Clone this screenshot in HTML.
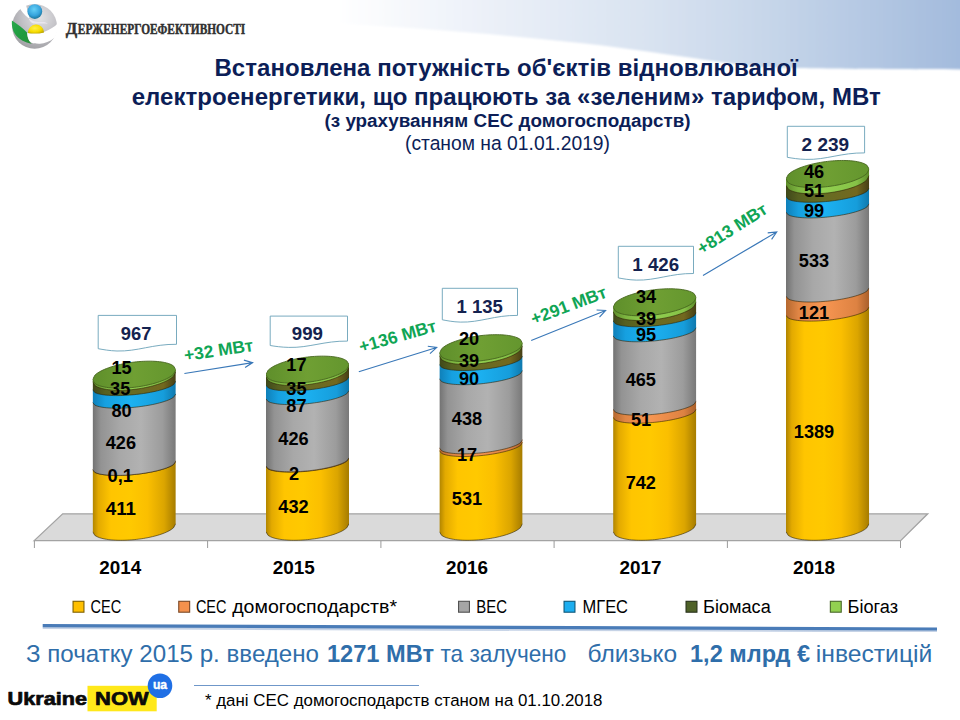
<!DOCTYPE html>
<html><head><meta charset="utf-8"><title>slide</title>
<style>
html,body{margin:0;padding:0;}
body{width:960px;height:720px;position:relative;overflow:hidden;background:#fff;font-family:"Liberation Sans",sans-serif;}
.t{position:absolute;white-space:nowrap;line-height:1;}
.title{color:#0c1e57;font-weight:bold;text-align:center;left:0;width:1015px;}
svg text{white-space:pre;}
</style></head><body>
<svg width="960" height="720" viewBox="0 0 960 720" style="position:absolute;left:0;top:0">

<defs>
<linearGradient id="g_ses" x1="0" x2="1" y1="0" y2="0">
 <stop offset="0" stop-color="#b08400"/><stop offset="0.07" stop-color="#e3aa00"/><stop offset="0.22" stop-color="#ffc500"/><stop offset="0.45" stop-color="#ffc900"/><stop offset="0.66" stop-color="#fbbf00"/><stop offset="0.86" stop-color="#dba500"/><stop offset="1" stop-color="#a57b00"/>
</linearGradient>
<linearGradient id="g_dom" x1="0" x2="1" y1="0" y2="0">
 <stop offset="0" stop-color="#b5682f"/><stop offset="0.15" stop-color="#e08645"/><stop offset="0.45" stop-color="#f79652"/><stop offset="0.85" stop-color="#dd8242"/><stop offset="1" stop-color="#a85f2a"/>
</linearGradient>
<linearGradient id="g_ves" x1="0" x2="1" y1="0" y2="0">
 <stop offset="0" stop-color="#727272"/><stop offset="0.1" stop-color="#939393"/><stop offset="0.33" stop-color="#a8a8a8"/><stop offset="0.58" stop-color="#b2b2b2"/><stop offset="0.84" stop-color="#9c9c9c"/><stop offset="1" stop-color="#787878"/>
</linearGradient>
<linearGradient id="g_mges" x1="0" x2="1" y1="0" y2="0">
 <stop offset="0" stop-color="#0f7fb8"/><stop offset="0.15" stop-color="#16a0e0"/><stop offset="0.45" stop-color="#1cb2f2"/><stop offset="0.85" stop-color="#169ddb"/><stop offset="1" stop-color="#0f78ad"/>
</linearGradient>
<linearGradient id="g_biom" x1="0" x2="1" y1="0" y2="0">
 <stop offset="0" stop-color="#3f481a"/><stop offset="0.15" stop-color="#566020"/><stop offset="0.45" stop-color="#666c23"/><stop offset="0.85" stop-color="#73681f"/><stop offset="1" stop-color="#453f16"/>
</linearGradient>
<linearGradient id="g_biog" x1="0" x2="1" y1="0" y2="0">
 <stop offset="0" stop-color="#5e8d2a"/><stop offset="0.15" stop-color="#7db540"/><stop offset="0.45" stop-color="#92d050"/><stop offset="0.85" stop-color="#86c247"/><stop offset="1" stop-color="#5b8a28"/>
</linearGradient>
<linearGradient id="g_lid" x1="0" x2="1" y1="0" y2="0">
 <stop offset="0" stop-color="#5f8f2b"/><stop offset="0.5" stop-color="#6f9f33"/><stop offset="1" stop-color="#64962e"/>
</linearGradient>
<linearGradient id="g_band" gradientUnits="userSpaceOnUse" x1="335" y1="0" x2="960" y2="0">
 <stop offset="0" stop-color="#ffffff"/><stop offset="0.25" stop-color="#ebf0f8"/><stop offset="0.5" stop-color="#d9e3f1"/><stop offset="0.68" stop-color="#c8d7ea"/><stop offset="1" stop-color="#a3bbdd"/>
</linearGradient>
<clipPath id="cclip"><rect x="-41.6" y="0" width="83.2" height="720"/></clipPath>
<filter id="soft" x="-5%" y="-20%" width="110%" height="140%"><feGaussianBlur stdDeviation="1.2"/></filter>
<filter id="blur1" x="-20%" y="-20%" width="140%" height="140%"><feGaussianBlur stdDeviation="0.55"/></filter>
<radialGradient id="lg_gray" cx="0.62" cy="0.3" r="0.8">
 <stop offset="0" stop-color="#e2e2e4"/><stop offset="0.5" stop-color="#c2c1c6"/><stop offset="1" stop-color="#9a9a9e"/>
</radialGradient>
<radialGradient id="lg_blue" cx="0.45" cy="0.35" r="0.7">
 <stop offset="0" stop-color="#66d0f7"/><stop offset="0.6" stop-color="#36a3dc"/><stop offset="1" stop-color="#176a8c"/>
</radialGradient>
<radialGradient id="lg_yel" cx="0.42" cy="0.4" r="0.7">
 <stop offset="0" stop-color="#fff04a"/><stop offset="0.6" stop-color="#f7dc00"/><stop offset="1" stop-color="#b9a300"/>
</radialGradient>
<linearGradient id="lg_green" x1="0" y1="0" x2="1" y2="1">
 <stop offset="0" stop-color="#27a84a"/><stop offset="0.6" stop-color="#1f9a3e"/><stop offset="1" stop-color="#2f8f3c"/>
</linearGradient>
</defs>

<path d="M320,-5 L320,23 C 400,26.5 480,32.5 580,43 C 640,49.5 700,60 755,66.3 C 785,68.6 840,69.1 966,69.4 L966,-5 Z" fill="url(#g_band)" filter="url(#soft)"/>
<g id="logo">
<g filter="url(#blur1)">
<circle cx="34.6" cy="26.4" r="22.4" fill="url(#lg_gray)"/>
<path d="M25.8,4.2 C23.5,5 21.5,6.2 19.8,7.8 C21,11 24,14.5 28.6,18.2 C29.6,17.2 30,16 30,15 C28,12.5 27,9 25.8,4.2 Z" fill="#ffffff"/>
<path d="M28.6,18.2 C32,21.5 38,22.3 43,22 C45,22 46.5,22.6 47.8,23.8 C43,23 38,24 33.5,23.6 C31,22.6 29.4,20.6 28.6,18.2 Z" fill="#e9e6ee"/>
<path d="M11.9,20.5 C17,24 23.5,28.5 27.2,32.8 C27.4,36.5 28.2,40.5 31.8,43.8 C25,43 18.5,39 14.8,33.8 C12.4,30 11.5,25 11.9,20.5 Z" fill="url(#lg_green)"/>
<path d="M27.2,32.9 C33,33.6 40,33.4 44.5,31.8 C50,29.5 54.5,27 57.6,23.5 C58.2,29 57,34 54.6,37.6 C50,42 43.5,44 39,43.7 C35,43.7 32.5,43.6 31,42.6 C28.2,40.2 27.3,36.5 27.2,32.9 Z" fill="#ffffff"/>
<circle cx="34.8" cy="11.6" r="7.4" fill="url(#lg_blue)"/>
<path d="M27.9,33 A8.1,8.1 0 0 1 44.1,32.4 C39,33.8 32.5,33.9 27.9,33 Z" fill="url(#lg_yel)"/>
</g>
</g>
<text x="65.8" y="34.3" font-family="Liberation Serif" font-size="17.6" font-weight="bold" fill="#303030" text-anchor="start" textLength="11.5" lengthAdjust="spacingAndGlyphs" stroke="#303030" stroke-width="0.45">Д</text>
<text x="77.8" y="34.3" font-family="Liberation Serif" font-size="14.6" font-weight="bold" fill="#303030" text-anchor="start" textLength="167.5" lengthAdjust="spacingAndGlyphs" stroke="#303030" stroke-width="0.45">ЕРЖЕНЕРГОЕФЕКТИВНОСТІ</text>
<path d="M34.2,540.6 L62.7,513.8 L927.7,513.8 L900.6,540.6 Z" fill="#dadada" stroke="#a3a3a3" stroke-width="1.3" stroke-linejoin="miter"/>
<line x1="34.4" y1="541" x2="34.4" y2="548" stroke="#8f8f8f" stroke-width="0.9"/>
<line x1="207.6" y1="541" x2="207.6" y2="548" stroke="#8f8f8f" stroke-width="0.9"/>
<line x1="380.9" y1="541" x2="380.9" y2="548" stroke="#8f8f8f" stroke-width="0.9"/>
<line x1="554.1" y1="541" x2="554.1" y2="548" stroke="#8f8f8f" stroke-width="0.9"/>
<line x1="727.4" y1="541" x2="727.4" y2="548" stroke="#8f8f8f" stroke-width="0.9"/>
<line x1="900.5" y1="541" x2="900.5" y2="548" stroke="#8f8f8f" stroke-width="0.9"/>
<g transform="translate(134.2,0)" clip-path="url(#cclip)">
<path d="M-41.6,469.19 L-41.60,531.77 -39.29,535.46 -36.98,536.77 -34.67,537.68 -32.36,538.35 -30.04,538.88 -27.73,539.29 -25.42,539.62 -23.11,539.87 -20.80,540.06 -18.49,540.19 -16.18,540.27 -13.87,540.30 -11.56,540.29 -9.24,540.23 -6.93,540.14 -4.62,540.01 -2.31,539.84 0.00,539.63 2.31,539.39 4.62,539.11 6.93,538.80 9.24,538.44 11.56,538.05 13.87,537.61 16.18,537.13 18.49,536.60 20.80,536.02 23.11,535.39 25.42,534.69 27.73,533.91 30.04,533.05 32.36,532.08 34.67,530.95 36.98,529.60 39.29,527.83 41.60,523.70 L41.6,460.87 Z" fill="url(#g_ses)"/>
<path d="M-41.60,531.77 -39.29,535.46 -36.98,536.77 -34.67,537.68 -32.36,538.35 -30.04,538.88 -27.73,539.29 -25.42,539.62 -23.11,539.87 -20.80,540.06 -18.49,540.19 -16.18,540.27 -13.87,540.30 -11.56,540.29 -9.24,540.23 -6.93,540.14 -4.62,540.01 -2.31,539.84 0.00,539.63 2.31,539.39 4.62,539.11 6.93,538.80 9.24,538.44 11.56,538.05 13.87,537.61 16.18,537.13 18.49,536.60 20.80,536.02 23.11,535.39 25.42,534.69 27.73,533.91 30.04,533.05 32.36,532.08 34.67,530.95 36.98,529.60 39.29,527.83 41.60,523.70" fill="none" stroke="rgba(45,35,5,0.62)" stroke-width="0.95"/>
<path d="M-41.6,469.17 L-41.60,469.69 -39.29,472.42 -36.98,473.35 -34.67,473.97 -32.36,474.42 -30.04,474.76 -27.73,475.01 -25.42,475.20 -23.11,475.32 -20.80,475.40 -18.49,475.44 -16.18,475.44 -13.87,475.40 -11.56,475.33 -9.24,475.23 -6.93,475.10 -4.62,474.94 -2.31,474.75 0.00,474.53 2.31,474.28 4.62,474.01 6.93,473.71 9.24,473.38 11.56,473.02 13.87,472.63 16.18,472.20 18.49,471.74 20.80,471.24 23.11,470.70 25.42,470.11 27.73,469.46 30.04,468.75 32.36,467.95 34.67,467.04 36.98,465.95 39.29,464.56 41.60,461.37 L41.6,460.85 Z" fill="url(#g_dom)"/>
<path d="M-41.60,469.69 -39.29,472.42 -36.98,473.35 -34.67,473.97 -32.36,474.42 -30.04,474.76 -27.73,475.01 -25.42,475.20 -23.11,475.32 -20.80,475.40 -18.49,475.44 -16.18,475.44 -13.87,475.40 -11.56,475.33 -9.24,475.23 -6.93,475.10 -4.62,474.94 -2.31,474.75 0.00,474.53 2.31,474.28 4.62,474.01 6.93,473.71 9.24,473.38 11.56,473.02 13.87,472.63 16.18,472.20 18.49,471.74 20.80,471.24 23.11,470.70 25.42,470.11 27.73,469.46 30.04,468.75 32.36,467.95 34.67,467.04 36.98,465.95 39.29,464.56 41.60,461.37" fill="none" stroke="rgba(45,35,5,0.62)" stroke-width="0.95"/>
<path d="M-41.6,401.95 L-41.60,469.67 -39.29,472.40 -36.98,473.33 -34.67,473.96 -32.36,474.41 -30.04,474.74 -27.73,475.00 -25.42,475.18 -23.11,475.31 -20.80,475.39 -18.49,475.42 -16.18,475.42 -13.87,475.39 -11.56,475.31 -9.24,475.21 -6.93,475.08 -4.62,474.92 -2.31,474.73 0.00,474.51 2.31,474.27 4.62,474.00 6.93,473.69 9.24,473.36 11.56,473.00 13.87,472.61 16.18,472.19 18.49,471.73 20.80,471.23 23.11,470.69 25.42,470.10 27.73,469.45 30.04,468.73 32.36,467.93 34.67,467.02 36.98,465.94 39.29,464.54 41.60,461.35 L41.6,393.63 Z" fill="url(#g_ves)"/>
<path d="M-41.60,469.67 -39.29,472.40 -36.98,473.33 -34.67,473.96 -32.36,474.41 -30.04,474.74 -27.73,475.00 -25.42,475.18 -23.11,475.31 -20.80,475.39 -18.49,475.42 -16.18,475.42 -13.87,475.39 -11.56,475.31 -9.24,475.21 -6.93,475.08 -4.62,474.92 -2.31,474.73 0.00,474.51 2.31,474.27 4.62,474.00 6.93,473.69 9.24,473.36 11.56,473.00 13.87,472.61 16.18,472.19 18.49,471.73 20.80,471.23 23.11,470.69 25.42,470.10 27.73,469.45 30.04,468.73 32.36,467.93 34.67,467.02 36.98,465.94 39.29,464.54 41.60,461.35" fill="none" stroke="rgba(45,35,5,0.62)" stroke-width="0.95"/>
<path d="M-41.6,389.33 L-41.60,402.45 -39.29,405.18 -36.98,406.11 -34.67,406.73 -32.36,407.18 -30.04,407.52 -27.73,407.77 -25.42,407.96 -23.11,408.09 -20.80,408.16 -18.49,408.20 -16.18,408.20 -13.87,408.16 -11.56,408.09 -9.24,407.99 -6.93,407.86 -4.62,407.70 -2.31,407.51 0.00,407.29 2.31,407.05 4.62,406.77 6.93,406.47 9.24,406.14 11.56,405.78 13.87,405.39 16.18,404.96 18.49,404.50 20.80,404.00 23.11,403.46 25.42,402.87 27.73,402.23 30.04,401.51 32.36,400.71 34.67,399.80 36.98,398.72 39.29,397.32 41.60,394.13 L41.6,381.01 Z" fill="url(#g_mges)"/>
<path d="M-41.60,402.45 -39.29,405.18 -36.98,406.11 -34.67,406.73 -32.36,407.18 -30.04,407.52 -27.73,407.77 -25.42,407.96 -23.11,408.09 -20.80,408.16 -18.49,408.20 -16.18,408.20 -13.87,408.16 -11.56,408.09 -9.24,407.99 -6.93,407.86 -4.62,407.70 -2.31,407.51 0.00,407.29 2.31,407.05 4.62,406.77 6.93,406.47 9.24,406.14 11.56,405.78 13.87,405.39 16.18,404.96 18.49,404.50 20.80,404.00 23.11,403.46 25.42,402.87 27.73,402.23 30.04,401.51 32.36,400.71 34.67,399.80 36.98,398.72 39.29,397.32 41.60,394.13" fill="none" stroke="rgba(45,35,5,0.62)" stroke-width="0.95"/>
<path d="M-41.6,381.18 L-41.60,389.83 -39.29,392.55 -36.98,393.49 -34.67,394.11 -32.36,394.56 -30.04,394.90 -27.73,395.15 -25.42,395.33 -23.11,395.46 -20.80,395.54 -18.49,395.58 -16.18,395.58 -13.87,395.54 -11.56,395.47 -9.24,395.37 -6.93,395.23 -4.62,395.07 -2.31,394.88 0.00,394.67 2.31,394.42 4.62,394.15 6.93,393.85 9.24,393.52 11.56,393.16 13.87,392.77 16.18,392.34 18.49,391.88 20.80,391.38 23.11,390.84 25.42,390.25 27.73,389.60 30.04,388.89 32.36,388.09 34.67,387.17 36.98,386.09 39.29,384.70 41.60,381.51 L41.6,371.37 Z" fill="url(#g_biom)"/>
<path d="M-41.60,389.83 -39.29,392.55 -36.98,393.49 -34.67,394.11 -32.36,394.56 -30.04,394.90 -27.73,395.15 -25.42,395.33 -23.11,395.46 -20.80,395.54 -18.49,395.58 -16.18,395.58 -13.87,395.54 -11.56,395.47 -9.24,395.37 -6.93,395.23 -4.62,395.07 -2.31,394.88 0.00,394.67 2.31,394.42 4.62,394.15 6.93,393.85 9.24,393.52 11.56,393.16 13.87,392.77 16.18,392.34 18.49,391.88 20.80,391.38 23.11,390.84 25.42,390.25 27.73,389.60 30.04,388.89 32.36,388.09 34.67,387.17 36.98,386.09 39.29,384.70 41.60,381.51" fill="none" stroke="rgba(45,35,5,0.62)" stroke-width="0.95"/>
<path d="M-41.6,379.60 L-41.60,381.68 -39.29,385.55 -36.98,386.91 -34.67,387.83 -32.36,388.51 -30.04,389.03 -27.73,389.44 -25.42,389.75 -23.11,389.98 -20.80,390.14 -18.49,390.24 -16.18,390.29 -13.87,390.29 -11.56,390.24 -9.24,390.15 -6.93,390.02 -4.62,389.84 -2.31,389.63 0.00,389.37 2.31,389.08 4.62,388.75 6.93,388.38 9.24,387.97 11.56,387.52 13.87,387.02 16.18,386.47 18.49,385.88 20.80,385.23 23.11,384.52 25.42,383.75 27.73,382.89 30.04,381.94 32.36,380.88 34.67,379.65 36.98,378.18 39.29,376.28 41.60,371.87 L41.6,369.78 Z" fill="url(#g_biog)"/>
<path d="M-41.60,381.68 -39.29,385.55 -36.98,386.91 -34.67,387.83 -32.36,388.51 -30.04,389.03 -27.73,389.44 -25.42,389.75 -23.11,389.98 -20.80,390.14 -18.49,390.24 -16.18,390.29 -13.87,390.29 -11.56,390.24 -9.24,390.15 -6.93,390.02 -4.62,389.84 -2.31,389.63 0.00,389.37 2.31,389.08 4.62,388.75 6.93,388.38 9.24,387.97 11.56,387.52 13.87,387.02 16.18,386.47 18.49,385.88 20.80,385.23 23.11,384.52 25.42,383.75 27.73,382.89 30.04,381.94 32.36,380.88 34.67,379.65 36.98,378.18 39.29,376.28 41.60,371.87" fill="none" stroke="rgba(45,35,5,0.62)" stroke-width="0.95"/>
<path d="M-41.60,379.60 -39.29,383.47 -36.98,384.83 -34.67,385.75 -32.36,386.43 -30.04,386.95 -27.73,387.36 -25.42,387.66 -23.11,387.90 -20.80,388.06 -18.49,388.16 -16.18,388.21 -13.87,388.21 -11.56,388.16 -9.24,388.07 -6.93,387.93 -4.62,387.76 -2.31,387.54 0.00,387.29 2.31,387.00 4.62,386.67 6.93,386.30 9.24,385.89 11.56,385.43 13.87,384.93 16.18,384.39 18.49,383.80 20.80,383.15 23.11,382.44 25.42,381.67 27.73,380.81 30.04,379.86 32.36,378.79 34.67,377.57 36.98,376.10 39.29,374.20 41.60,369.78 41.60,369.78 39.29,365.91 36.98,364.56 34.67,363.64 32.36,362.95 30.04,362.43 27.73,362.03 25.42,361.72 23.11,361.49 20.80,361.33 18.49,361.22 16.18,361.17 13.87,361.18 11.56,361.22 9.24,361.32 6.93,361.45 4.62,361.62 2.31,361.84 0.00,362.09 -2.31,362.38 -4.62,362.72 -6.93,363.09 -9.24,363.50 -11.56,363.95 -13.87,364.45 -16.18,364.99 -18.49,365.59 -20.80,366.23 -23.11,366.94 -25.42,367.72 -27.73,368.57 -30.04,369.52 -32.36,370.59 -34.67,371.82 -36.98,373.28 -39.29,375.19 -41.60,379.60 Z" fill="url(#g_lid)" stroke="#47661f" stroke-width="0.9"/>
</g>
<g transform="translate(307.5,0)" clip-path="url(#cclip)">
<path d="M-41.6,465.88 L-41.60,531.77 -39.29,535.46 -36.98,536.77 -34.67,537.68 -32.36,538.35 -30.04,538.88 -27.73,539.29 -25.42,539.62 -23.11,539.87 -20.80,540.06 -18.49,540.19 -16.18,540.27 -13.87,540.30 -11.56,540.29 -9.24,540.23 -6.93,540.14 -4.62,540.01 -2.31,539.84 0.00,539.63 2.31,539.39 4.62,539.11 6.93,538.80 9.24,538.44 11.56,538.05 13.87,537.61 16.18,537.13 18.49,536.60 20.80,536.02 23.11,535.39 25.42,534.69 27.73,533.91 30.04,533.05 32.36,532.08 34.67,530.95 36.98,529.60 39.29,527.83 41.60,523.70 L41.6,457.56 Z" fill="url(#g_ses)"/>
<path d="M-41.60,531.77 -39.29,535.46 -36.98,536.77 -34.67,537.68 -32.36,538.35 -30.04,538.88 -27.73,539.29 -25.42,539.62 -23.11,539.87 -20.80,540.06 -18.49,540.19 -16.18,540.27 -13.87,540.30 -11.56,540.29 -9.24,540.23 -6.93,540.14 -4.62,540.01 -2.31,539.84 0.00,539.63 2.31,539.39 4.62,539.11 6.93,538.80 9.24,538.44 11.56,538.05 13.87,537.61 16.18,537.13 18.49,536.60 20.80,536.02 23.11,535.39 25.42,534.69 27.73,533.91 30.04,533.05 32.36,532.08 34.67,530.95 36.98,529.60 39.29,527.83 41.60,523.70" fill="none" stroke="rgba(45,35,5,0.62)" stroke-width="0.95"/>
<path d="M-41.6,465.56 L-41.60,466.38 -39.29,469.10 -36.98,470.04 -34.67,470.66 -32.36,471.11 -30.04,471.44 -27.73,471.70 -25.42,471.88 -23.11,472.01 -20.80,472.09 -18.49,472.13 -16.18,472.12 -13.87,472.09 -11.56,472.02 -9.24,471.91 -6.93,471.78 -4.62,471.62 -2.31,471.43 0.00,471.22 2.31,470.97 4.62,470.70 6.93,470.40 9.24,470.07 11.56,469.71 13.87,469.31 16.18,468.89 18.49,468.43 20.80,467.93 23.11,467.39 25.42,466.80 27.73,466.15 30.04,465.44 32.36,464.64 34.67,463.72 36.98,462.64 39.29,461.24 41.60,458.06 L41.6,457.24 Z" fill="url(#g_dom)"/>
<path d="M-41.60,466.38 -39.29,469.10 -36.98,470.04 -34.67,470.66 -32.36,471.11 -30.04,471.44 -27.73,471.70 -25.42,471.88 -23.11,472.01 -20.80,472.09 -18.49,472.13 -16.18,472.12 -13.87,472.09 -11.56,472.02 -9.24,471.91 -6.93,471.78 -4.62,471.62 -2.31,471.43 0.00,471.22 2.31,470.97 4.62,470.70 6.93,470.40 9.24,470.07 11.56,469.71 13.87,469.31 16.18,468.89 18.49,468.43 20.80,467.93 23.11,467.39 25.42,466.80 27.73,466.15 30.04,465.44 32.36,464.64 34.67,463.72 36.98,462.64 39.29,461.24 41.60,458.06" fill="none" stroke="rgba(45,35,5,0.62)" stroke-width="0.95"/>
<path d="M-41.6,398.34 L-41.60,466.06 -39.29,468.79 -36.98,469.72 -34.67,470.34 -32.36,470.79 -30.04,471.13 -27.73,471.38 -25.42,471.57 -23.11,471.69 -20.80,471.77 -18.49,471.81 -16.18,471.81 -13.87,471.77 -11.56,471.70 -9.24,471.60 -6.93,471.47 -4.62,471.31 -2.31,471.12 0.00,470.90 2.31,470.65 4.62,470.38 6.93,470.08 9.24,469.75 11.56,469.39 13.87,469.00 16.18,468.57 18.49,468.11 20.80,467.61 23.11,467.07 25.42,466.48 27.73,465.83 30.04,465.12 32.36,464.32 34.67,463.41 36.98,462.33 39.29,460.93 41.60,457.74 L41.6,390.02 Z" fill="url(#g_ves)"/>
<path d="M-41.60,466.06 -39.29,468.79 -36.98,469.72 -34.67,470.34 -32.36,470.79 -30.04,471.13 -27.73,471.38 -25.42,471.57 -23.11,471.69 -20.80,471.77 -18.49,471.81 -16.18,471.81 -13.87,471.77 -11.56,471.70 -9.24,471.60 -6.93,471.47 -4.62,471.31 -2.31,471.12 0.00,470.90 2.31,470.65 4.62,470.38 6.93,470.08 9.24,469.75 11.56,469.39 13.87,469.00 16.18,468.57 18.49,468.11 20.80,467.61 23.11,467.07 25.42,466.48 27.73,465.83 30.04,465.12 32.36,464.32 34.67,463.41 36.98,462.33 39.29,460.93 41.60,457.74" fill="none" stroke="rgba(45,35,5,0.62)" stroke-width="0.95"/>
<path d="M-41.6,384.61 L-41.60,398.84 -39.29,401.56 -36.98,402.50 -34.67,403.12 -32.36,403.57 -30.04,403.91 -27.73,404.16 -25.42,404.34 -23.11,404.47 -20.80,404.55 -18.49,404.59 -16.18,404.59 -13.87,404.55 -11.56,404.48 -9.24,404.38 -6.93,404.24 -4.62,404.08 -2.31,403.89 0.00,403.68 2.31,403.43 4.62,403.16 6.93,402.86 9.24,402.53 11.56,402.17 13.87,401.78 16.18,401.35 18.49,400.89 20.80,400.39 23.11,399.85 25.42,399.26 27.73,398.61 30.04,397.90 32.36,397.10 34.67,396.19 36.98,395.10 39.29,393.71 41.60,390.52 L41.6,376.29 Z" fill="url(#g_mges)"/>
<path d="M-41.60,398.84 -39.29,401.56 -36.98,402.50 -34.67,403.12 -32.36,403.57 -30.04,403.91 -27.73,404.16 -25.42,404.34 -23.11,404.47 -20.80,404.55 -18.49,404.59 -16.18,404.59 -13.87,404.55 -11.56,404.48 -9.24,404.38 -6.93,404.24 -4.62,404.08 -2.31,403.89 0.00,403.68 2.31,403.43 4.62,403.16 6.93,402.86 9.24,402.53 11.56,402.17 13.87,401.78 16.18,401.35 18.49,400.89 20.80,400.39 23.11,399.85 25.42,399.26 27.73,398.61 30.04,397.90 32.36,397.10 34.67,396.19 36.98,395.10 39.29,393.71 41.60,390.52" fill="none" stroke="rgba(45,35,5,0.62)" stroke-width="0.95"/>
<path d="M-41.6,376.43 L-41.60,385.11 -39.29,387.84 -36.98,388.77 -34.67,389.39 -32.36,389.84 -30.04,390.18 -27.73,390.43 -25.42,390.61 -23.11,390.74 -20.80,390.82 -18.49,390.86 -16.18,390.86 -13.87,390.82 -11.56,390.75 -9.24,390.65 -6.93,390.52 -4.62,390.35 -2.31,390.17 0.00,389.95 2.31,389.70 4.62,389.43 6.93,389.13 9.24,388.80 11.56,388.44 13.87,388.05 16.18,387.62 18.49,387.16 20.80,386.66 23.11,386.12 25.42,385.53 27.73,384.88 30.04,384.17 32.36,383.37 34.67,382.46 36.98,381.37 39.29,379.98 41.60,376.79 L41.6,366.61 Z" fill="url(#g_biom)"/>
<path d="M-41.60,385.11 -39.29,387.84 -36.98,388.77 -34.67,389.39 -32.36,389.84 -30.04,390.18 -27.73,390.43 -25.42,390.61 -23.11,390.74 -20.80,390.82 -18.49,390.86 -16.18,390.86 -13.87,390.82 -11.56,390.75 -9.24,390.65 -6.93,390.52 -4.62,390.35 -2.31,390.17 0.00,389.95 2.31,389.70 4.62,389.43 6.93,389.13 9.24,388.80 11.56,388.44 13.87,388.05 16.18,387.62 18.49,387.16 20.80,386.66 23.11,386.12 25.42,385.53 27.73,384.88 30.04,384.17 32.36,383.37 34.67,382.46 36.98,381.37 39.29,379.98 41.60,376.79" fill="none" stroke="rgba(45,35,5,0.62)" stroke-width="0.95"/>
<path d="M-41.6,374.57 L-41.60,376.93 -39.29,380.80 -36.98,382.15 -34.67,383.07 -32.36,383.76 -30.04,384.28 -27.73,384.68 -25.42,384.99 -23.11,385.22 -20.80,385.38 -18.49,385.49 -16.18,385.54 -13.87,385.53 -11.56,385.49 -9.24,385.39 -6.93,385.26 -4.62,385.09 -2.31,384.87 0.00,384.62 2.31,384.33 4.62,384.00 6.93,383.62 9.24,383.21 11.56,382.76 13.87,382.26 16.18,381.72 18.49,381.12 20.80,380.48 23.11,379.77 25.42,378.99 27.73,378.14 30.04,377.19 32.36,376.12 34.67,374.89 36.98,373.43 39.29,371.52 41.60,367.11 L41.6,364.75 Z" fill="url(#g_biog)"/>
<path d="M-41.60,376.93 -39.29,380.80 -36.98,382.15 -34.67,383.07 -32.36,383.76 -30.04,384.28 -27.73,384.68 -25.42,384.99 -23.11,385.22 -20.80,385.38 -18.49,385.49 -16.18,385.54 -13.87,385.53 -11.56,385.49 -9.24,385.39 -6.93,385.26 -4.62,385.09 -2.31,384.87 0.00,384.62 2.31,384.33 4.62,384.00 6.93,383.62 9.24,383.21 11.56,382.76 13.87,382.26 16.18,381.72 18.49,381.12 20.80,380.48 23.11,379.77 25.42,378.99 27.73,378.14 30.04,377.19 32.36,376.12 34.67,374.89 36.98,373.43 39.29,371.52 41.60,367.11" fill="none" stroke="rgba(45,35,5,0.62)" stroke-width="0.95"/>
<path d="M-41.60,374.57 -39.29,378.44 -36.98,379.79 -34.67,380.71 -32.36,381.40 -30.04,381.92 -27.73,382.32 -25.42,382.63 -23.11,382.86 -20.80,383.02 -18.49,383.13 -16.18,383.17 -13.87,383.17 -11.56,383.13 -9.24,383.03 -6.93,382.90 -4.62,382.73 -2.31,382.51 0.00,382.26 2.31,381.97 4.62,381.63 6.93,381.26 9.24,380.85 11.56,380.40 13.87,379.90 16.18,379.36 18.49,378.76 20.80,378.12 23.11,377.41 25.42,376.63 27.73,375.78 30.04,374.83 32.36,373.76 34.67,372.53 36.98,371.07 39.29,369.16 41.60,364.75 41.60,364.75 39.29,360.88 36.98,359.52 34.67,358.60 32.36,357.92 30.04,357.40 27.73,356.99 25.42,356.68 23.11,356.45 20.80,356.29 18.49,356.19 16.18,356.14 13.87,356.14 11.56,356.19 9.24,356.28 6.93,356.42 4.62,356.59 2.31,356.80 0.00,357.06 -2.31,357.35 -4.62,357.68 -6.93,358.05 -9.24,358.46 -11.56,358.92 -13.87,359.41 -16.18,359.96 -18.49,360.55 -20.80,361.20 -23.11,361.91 -25.42,362.68 -27.73,363.54 -30.04,364.49 -32.36,365.56 -34.67,366.78 -36.98,368.25 -39.29,370.15 -41.60,374.57 Z" fill="url(#g_lid)" stroke="#47661f" stroke-width="0.9"/>
</g>
<g transform="translate(481.0,0)" clip-path="url(#cclip)">
<path d="M-41.6,450.25 L-41.60,531.77 -39.29,535.46 -36.98,536.77 -34.67,537.68 -32.36,538.35 -30.04,538.88 -27.73,539.29 -25.42,539.62 -23.11,539.87 -20.80,540.06 -18.49,540.19 -16.18,540.27 -13.87,540.30 -11.56,540.29 -9.24,540.23 -6.93,540.14 -4.62,540.01 -2.31,539.84 0.00,539.63 2.31,539.39 4.62,539.11 6.93,538.80 9.24,538.44 11.56,538.05 13.87,537.61 16.18,537.13 18.49,536.60 20.80,536.02 23.11,535.39 25.42,534.69 27.73,533.91 30.04,533.05 32.36,532.08 34.67,530.95 36.98,529.60 39.29,527.83 41.60,523.70 L41.6,441.93 Z" fill="url(#g_ses)"/>
<path d="M-41.60,531.77 -39.29,535.46 -36.98,536.77 -34.67,537.68 -32.36,538.35 -30.04,538.88 -27.73,539.29 -25.42,539.62 -23.11,539.87 -20.80,540.06 -18.49,540.19 -16.18,540.27 -13.87,540.30 -11.56,540.29 -9.24,540.23 -6.93,540.14 -4.62,540.01 -2.31,539.84 0.00,539.63 2.31,539.39 4.62,539.11 6.93,538.80 9.24,538.44 11.56,538.05 13.87,537.61 16.18,537.13 18.49,536.60 20.80,536.02 23.11,535.39 25.42,534.69 27.73,533.91 30.04,533.05 32.36,532.08 34.67,530.95 36.98,529.60 39.29,527.83 41.60,523.70" fill="none" stroke="rgba(45,35,5,0.62)" stroke-width="0.95"/>
<path d="M-41.6,447.57 L-41.60,450.75 -39.29,453.48 -36.98,454.41 -34.67,455.03 -32.36,455.49 -30.04,455.82 -27.73,456.07 -25.42,456.26 -23.11,456.39 -20.80,456.47 -18.49,456.50 -16.18,456.50 -13.87,456.47 -11.56,456.39 -9.24,456.29 -6.93,456.16 -4.62,456.00 -2.31,455.81 0.00,455.59 2.31,455.35 4.62,455.08 6.93,454.77 9.24,454.44 11.56,454.08 13.87,453.69 16.18,453.27 18.49,452.81 20.80,452.31 23.11,451.77 25.42,451.17 27.73,450.53 30.04,449.81 32.36,449.01 34.67,448.10 36.98,447.02 39.29,445.62 41.60,442.43 L41.6,439.25 Z" fill="url(#g_dom)"/>
<path d="M-41.60,450.75 -39.29,453.48 -36.98,454.41 -34.67,455.03 -32.36,455.49 -30.04,455.82 -27.73,456.07 -25.42,456.26 -23.11,456.39 -20.80,456.47 -18.49,456.50 -16.18,456.50 -13.87,456.47 -11.56,456.39 -9.24,456.29 -6.93,456.16 -4.62,456.00 -2.31,455.81 0.00,455.59 2.31,455.35 4.62,455.08 6.93,454.77 9.24,454.44 11.56,454.08 13.87,453.69 16.18,453.27 18.49,452.81 20.80,452.31 23.11,451.77 25.42,451.17 27.73,450.53 30.04,449.81 32.36,449.01 34.67,448.10 36.98,447.02 39.29,445.62 41.60,442.43" fill="none" stroke="rgba(45,35,5,0.62)" stroke-width="0.95"/>
<path d="M-41.6,378.45 L-41.60,448.07 -39.29,450.80 -36.98,451.73 -34.67,452.35 -32.36,452.80 -30.04,453.14 -27.73,453.39 -25.42,453.58 -23.11,453.71 -20.80,453.78 -18.49,453.82 -16.18,453.82 -13.87,453.78 -11.56,453.71 -9.24,453.61 -6.93,453.48 -4.62,453.32 -2.31,453.13 0.00,452.91 2.31,452.67 4.62,452.39 6.93,452.09 9.24,451.76 11.56,451.40 13.87,451.01 16.18,450.58 18.49,450.12 20.80,449.62 23.11,449.08 25.42,448.49 27.73,447.85 30.04,447.13 32.36,446.33 34.67,445.42 36.98,444.34 39.29,442.94 41.60,439.75 L41.6,370.13 Z" fill="url(#g_ves)"/>
<path d="M-41.60,448.07 -39.29,450.80 -36.98,451.73 -34.67,452.35 -32.36,452.80 -30.04,453.14 -27.73,453.39 -25.42,453.58 -23.11,453.71 -20.80,453.78 -18.49,453.82 -16.18,453.82 -13.87,453.78 -11.56,453.71 -9.24,453.61 -6.93,453.48 -4.62,453.32 -2.31,453.13 0.00,452.91 2.31,452.67 4.62,452.39 6.93,452.09 9.24,451.76 11.56,451.40 13.87,451.01 16.18,450.58 18.49,450.12 20.80,449.62 23.11,449.08 25.42,448.49 27.73,447.85 30.04,447.13 32.36,446.33 34.67,445.42 36.98,444.34 39.29,442.94 41.60,439.75" fill="none" stroke="rgba(45,35,5,0.62)" stroke-width="0.95"/>
<path d="M-41.6,364.25 L-41.60,378.95 -39.29,381.68 -36.98,382.62 -34.67,383.24 -32.36,383.69 -30.04,384.02 -27.73,384.28 -25.42,384.46 -23.11,384.59 -20.80,384.67 -18.49,384.71 -16.18,384.70 -13.87,384.67 -11.56,384.60 -9.24,384.49 -6.93,384.36 -4.62,384.20 -2.31,384.01 0.00,383.79 2.31,383.55 4.62,383.28 6.93,382.98 9.24,382.64 11.56,382.28 13.87,381.89 16.18,381.47 18.49,381.01 20.80,380.51 23.11,379.97 25.42,379.38 27.73,378.73 30.04,378.01 32.36,377.22 34.67,376.30 36.98,375.22 39.29,373.82 41.60,370.63 L41.6,355.93 Z" fill="url(#g_mges)"/>
<path d="M-41.60,378.95 -39.29,381.68 -36.98,382.62 -34.67,383.24 -32.36,383.69 -30.04,384.02 -27.73,384.28 -25.42,384.46 -23.11,384.59 -20.80,384.67 -18.49,384.71 -16.18,384.70 -13.87,384.67 -11.56,384.60 -9.24,384.49 -6.93,384.36 -4.62,384.20 -2.31,384.01 0.00,383.79 2.31,383.55 4.62,383.28 6.93,382.98 9.24,382.64 11.56,382.28 13.87,381.89 16.18,381.47 18.49,381.01 20.80,380.51 23.11,379.97 25.42,379.38 27.73,378.73 30.04,378.01 32.36,377.22 34.67,376.30 36.98,375.22 39.29,373.82 41.60,370.63" fill="none" stroke="rgba(45,35,5,0.62)" stroke-width="0.95"/>
<path d="M-41.6,355.38 L-41.60,364.75 -39.29,367.48 -36.98,368.41 -34.67,369.03 -32.36,369.48 -30.04,369.82 -27.73,370.07 -25.42,370.26 -23.11,370.39 -20.80,370.47 -18.49,370.50 -16.18,370.50 -13.87,370.46 -11.56,370.39 -9.24,370.29 -6.93,370.16 -4.62,370.00 -2.31,369.81 0.00,369.59 2.31,369.35 4.62,369.07 6.93,368.77 9.24,368.44 11.56,368.08 13.87,367.69 16.18,367.27 18.49,366.81 20.80,366.31 23.11,365.76 25.42,365.17 27.73,364.53 30.04,363.81 32.36,363.01 34.67,362.10 36.98,361.02 39.29,359.62 41.60,356.43 L41.6,345.57 Z" fill="url(#g_biom)"/>
<path d="M-41.60,364.75 -39.29,367.48 -36.98,368.41 -34.67,369.03 -32.36,369.48 -30.04,369.82 -27.73,370.07 -25.42,370.26 -23.11,370.39 -20.80,370.47 -18.49,370.50 -16.18,370.50 -13.87,370.46 -11.56,370.39 -9.24,370.29 -6.93,370.16 -4.62,370.00 -2.31,369.81 0.00,369.59 2.31,369.35 4.62,369.07 6.93,368.77 9.24,368.44 11.56,368.08 13.87,367.69 16.18,367.27 18.49,366.81 20.80,366.31 23.11,365.76 25.42,365.17 27.73,364.53 30.04,363.81 32.36,363.01 34.67,362.10 36.98,361.02 39.29,359.62 41.60,356.43" fill="none" stroke="rgba(45,35,5,0.62)" stroke-width="0.95"/>
<path d="M-41.6,353.11 L-41.60,355.88 -39.29,359.75 -36.98,361.11 -34.67,362.03 -32.36,362.71 -30.04,363.23 -27.73,363.64 -25.42,363.95 -23.11,364.18 -20.80,364.34 -18.49,364.44 -16.18,364.49 -13.87,364.49 -11.56,364.44 -9.24,364.35 -6.93,364.22 -4.62,364.04 -2.31,363.83 0.00,363.57 2.31,363.28 4.62,362.95 6.93,362.58 9.24,362.17 11.56,361.71 13.87,361.22 16.18,360.67 18.49,360.08 20.80,359.43 23.11,358.72 25.42,357.95 27.73,357.09 30.04,356.14 32.36,355.08 34.67,353.85 36.98,352.38 39.29,350.48 41.60,346.07 L41.6,343.29 Z" fill="url(#g_biog)"/>
<path d="M-41.60,355.88 -39.29,359.75 -36.98,361.11 -34.67,362.03 -32.36,362.71 -30.04,363.23 -27.73,363.64 -25.42,363.95 -23.11,364.18 -20.80,364.34 -18.49,364.44 -16.18,364.49 -13.87,364.49 -11.56,364.44 -9.24,364.35 -6.93,364.22 -4.62,364.04 -2.31,363.83 0.00,363.57 2.31,363.28 4.62,362.95 6.93,362.58 9.24,362.17 11.56,361.71 13.87,361.22 16.18,360.67 18.49,360.08 20.80,359.43 23.11,358.72 25.42,357.95 27.73,357.09 30.04,356.14 32.36,355.08 34.67,353.85 36.98,352.38 39.29,350.48 41.60,346.07" fill="none" stroke="rgba(45,35,5,0.62)" stroke-width="0.95"/>
<path d="M-41.60,353.11 -39.29,356.97 -36.98,358.33 -34.67,359.25 -32.36,359.93 -30.04,360.46 -27.73,360.86 -25.42,361.17 -23.11,361.40 -20.80,361.56 -18.49,361.67 -16.18,361.71 -13.87,361.71 -11.56,361.66 -9.24,361.57 -6.93,361.44 -4.62,361.26 -2.31,361.05 0.00,360.80 2.31,360.50 4.62,360.17 6.93,359.80 9.24,359.39 11.56,358.94 13.87,358.44 16.18,357.90 18.49,357.30 20.80,356.65 23.11,355.95 25.42,355.17 27.73,354.32 30.04,353.37 32.36,352.30 34.67,351.07 36.98,349.61 39.29,347.70 41.60,343.29 41.60,343.29 39.29,339.42 36.98,338.06 34.67,337.14 32.36,336.46 30.04,335.94 27.73,335.53 25.42,335.22 23.11,334.99 20.80,334.83 18.49,334.73 16.18,334.68 13.87,334.68 11.56,334.73 9.24,334.82 6.93,334.96 4.62,335.13 2.31,335.34 0.00,335.60 -2.31,335.89 -4.62,336.22 -6.93,336.59 -9.24,337.00 -11.56,337.46 -13.87,337.95 -16.18,338.50 -18.49,339.09 -20.80,339.74 -23.11,340.45 -25.42,341.22 -27.73,342.08 -30.04,343.03 -32.36,344.10 -34.67,345.32 -36.98,346.79 -39.29,348.69 -41.60,353.11 Z" fill="url(#g_lid)" stroke="#47661f" stroke-width="0.9"/>
</g>
<g transform="translate(654.7,0)" clip-path="url(#cclip)">
<path d="M-41.6,416.96 L-41.60,531.77 -39.29,535.46 -36.98,536.77 -34.67,537.68 -32.36,538.35 -30.04,538.88 -27.73,539.29 -25.42,539.62 -23.11,539.87 -20.80,540.06 -18.49,540.19 -16.18,540.27 -13.87,540.30 -11.56,540.29 -9.24,540.23 -6.93,540.14 -4.62,540.01 -2.31,539.84 0.00,539.63 2.31,539.39 4.62,539.11 6.93,538.80 9.24,538.44 11.56,538.05 13.87,537.61 16.18,537.13 18.49,536.60 20.80,536.02 23.11,535.39 25.42,534.69 27.73,533.91 30.04,533.05 32.36,532.08 34.67,530.95 36.98,529.60 39.29,527.83 41.60,523.70 L41.6,408.64 Z" fill="url(#g_ses)"/>
<path d="M-41.60,531.77 -39.29,535.46 -36.98,536.77 -34.67,537.68 -32.36,538.35 -30.04,538.88 -27.73,539.29 -25.42,539.62 -23.11,539.87 -20.80,540.06 -18.49,540.19 -16.18,540.27 -13.87,540.30 -11.56,540.29 -9.24,540.23 -6.93,540.14 -4.62,540.01 -2.31,539.84 0.00,539.63 2.31,539.39 4.62,539.11 6.93,538.80 9.24,538.44 11.56,538.05 13.87,537.61 16.18,537.13 18.49,536.60 20.80,536.02 23.11,535.39 25.42,534.69 27.73,533.91 30.04,533.05 32.36,532.08 34.67,530.95 36.98,529.60 39.29,527.83 41.60,523.70" fill="none" stroke="rgba(45,35,5,0.62)" stroke-width="0.95"/>
<path d="M-41.6,408.91 L-41.60,417.46 -39.29,420.18 -36.98,421.12 -34.67,421.74 -32.36,422.19 -30.04,422.53 -27.73,422.78 -25.42,422.96 -23.11,423.09 -20.80,423.17 -18.49,423.21 -16.18,423.21 -13.87,423.17 -11.56,423.10 -9.24,423.00 -6.93,422.86 -4.62,422.70 -2.31,422.51 0.00,422.30 2.31,422.05 4.62,421.78 6.93,421.48 9.24,421.15 11.56,420.79 13.87,420.40 16.18,419.97 18.49,419.51 20.80,419.01 23.11,418.47 25.42,417.88 27.73,417.23 30.04,416.52 32.36,415.72 34.67,414.81 36.98,413.72 39.29,412.33 41.60,409.14 L41.6,400.59 Z" fill="url(#g_dom)"/>
<path d="M-41.60,417.46 -39.29,420.18 -36.98,421.12 -34.67,421.74 -32.36,422.19 -30.04,422.53 -27.73,422.78 -25.42,422.96 -23.11,423.09 -20.80,423.17 -18.49,423.21 -16.18,423.21 -13.87,423.17 -11.56,423.10 -9.24,423.00 -6.93,422.86 -4.62,422.70 -2.31,422.51 0.00,422.30 2.31,422.05 4.62,421.78 6.93,421.48 9.24,421.15 11.56,420.79 13.87,420.40 16.18,419.97 18.49,419.51 20.80,419.01 23.11,418.47 25.42,417.88 27.73,417.23 30.04,416.52 32.36,415.72 34.67,414.81 36.98,413.72 39.29,412.33 41.60,409.14" fill="none" stroke="rgba(45,35,5,0.62)" stroke-width="0.95"/>
<path d="M-41.6,335.53 L-41.60,409.41 -39.29,412.14 -36.98,413.07 -34.67,413.69 -32.36,414.14 -30.04,414.48 -27.73,414.73 -25.42,414.92 -23.11,415.04 -20.80,415.12 -18.49,415.16 -16.18,415.16 -13.87,415.12 -11.56,415.05 -9.24,414.95 -6.93,414.82 -4.62,414.66 -2.31,414.47 0.00,414.25 2.31,414.00 4.62,413.73 6.93,413.43 9.24,413.10 11.56,412.74 13.87,412.35 16.18,411.92 18.49,411.46 20.80,410.96 23.11,410.42 25.42,409.83 27.73,409.18 30.04,408.47 32.36,407.67 34.67,406.76 36.98,405.68 39.29,404.28 41.60,401.09 L41.6,327.21 Z" fill="url(#g_ves)"/>
<path d="M-41.60,409.41 -39.29,412.14 -36.98,413.07 -34.67,413.69 -32.36,414.14 -30.04,414.48 -27.73,414.73 -25.42,414.92 -23.11,415.04 -20.80,415.12 -18.49,415.16 -16.18,415.16 -13.87,415.12 -11.56,415.05 -9.24,414.95 -6.93,414.82 -4.62,414.66 -2.31,414.47 0.00,414.25 2.31,414.00 4.62,413.73 6.93,413.43 9.24,413.10 11.56,412.74 13.87,412.35 16.18,411.92 18.49,411.46 20.80,410.96 23.11,410.42 25.42,409.83 27.73,409.18 30.04,408.47 32.36,407.67 34.67,406.76 36.98,405.68 39.29,404.28 41.60,401.09" fill="none" stroke="rgba(45,35,5,0.62)" stroke-width="0.95"/>
<path d="M-41.6,320.54 L-41.60,336.03 -39.29,338.76 -36.98,339.69 -34.67,340.31 -32.36,340.77 -30.04,341.10 -27.73,341.35 -25.42,341.54 -23.11,341.67 -20.80,341.75 -18.49,341.78 -16.18,341.78 -13.87,341.74 -11.56,341.67 -9.24,341.57 -6.93,341.44 -4.62,341.28 -2.31,341.09 0.00,340.87 2.31,340.63 4.62,340.35 6.93,340.05 9.24,339.72 11.56,339.36 13.87,338.97 16.18,338.55 18.49,338.09 20.80,337.59 23.11,337.04 25.42,336.45 27.73,335.81 30.04,335.09 32.36,334.29 34.67,333.38 36.98,332.30 39.29,330.90 41.60,327.71 L41.6,312.22 Z" fill="url(#g_mges)"/>
<path d="M-41.60,336.03 -39.29,338.76 -36.98,339.69 -34.67,340.31 -32.36,340.77 -30.04,341.10 -27.73,341.35 -25.42,341.54 -23.11,341.67 -20.80,341.75 -18.49,341.78 -16.18,341.78 -13.87,341.74 -11.56,341.67 -9.24,341.57 -6.93,341.44 -4.62,341.28 -2.31,341.09 0.00,340.87 2.31,340.63 4.62,340.35 6.93,340.05 9.24,339.72 11.56,339.36 13.87,338.97 16.18,338.55 18.49,338.09 20.80,337.59 23.11,337.04 25.42,336.45 27.73,335.81 30.04,335.09 32.36,334.29 34.67,333.38 36.98,332.30 39.29,330.90 41.60,327.71" fill="none" stroke="rgba(45,35,5,0.62)" stroke-width="0.95"/>
<path d="M-41.6,311.41 L-41.60,321.04 -39.29,323.77 -36.98,324.70 -34.67,325.32 -32.36,325.77 -30.04,326.11 -27.73,326.36 -25.42,326.55 -23.11,326.68 -20.80,326.76 -18.49,326.79 -16.18,326.79 -13.87,326.75 -11.56,326.68 -9.24,326.58 -6.93,326.45 -4.62,326.29 -2.31,326.10 0.00,325.88 2.31,325.64 4.62,325.36 6.93,325.06 9.24,324.73 11.56,324.37 13.87,323.98 16.18,323.56 18.49,323.10 20.80,322.60 23.11,322.05 25.42,321.46 27.73,320.82 30.04,320.10 32.36,319.30 34.67,318.39 36.98,317.31 39.29,315.91 41.60,312.72 L41.6,301.59 Z" fill="url(#g_biom)"/>
<path d="M-41.60,321.04 -39.29,323.77 -36.98,324.70 -34.67,325.32 -32.36,325.77 -30.04,326.11 -27.73,326.36 -25.42,326.55 -23.11,326.68 -20.80,326.76 -18.49,326.79 -16.18,326.79 -13.87,326.75 -11.56,326.68 -9.24,326.58 -6.93,326.45 -4.62,326.29 -2.31,326.10 0.00,325.88 2.31,325.64 4.62,325.36 6.93,325.06 9.24,324.73 11.56,324.37 13.87,323.98 16.18,323.56 18.49,323.10 20.80,322.60 23.11,322.05 25.42,321.46 27.73,320.82 30.04,320.10 32.36,319.30 34.67,318.39 36.98,317.31 39.29,315.91 41.60,312.72" fill="none" stroke="rgba(45,35,5,0.62)" stroke-width="0.95"/>
<path d="M-41.6,307.19 L-41.60,311.91 -39.29,315.78 -36.98,317.13 -34.67,318.05 -32.36,318.74 -30.04,319.26 -27.73,319.66 -25.42,319.97 -23.11,320.20 -20.80,320.36 -18.49,320.47 -16.18,320.52 -13.87,320.51 -11.56,320.47 -9.24,320.37 -6.93,320.24 -4.62,320.07 -2.31,319.85 0.00,319.60 2.31,319.31 4.62,318.98 6.93,318.60 9.24,318.19 11.56,317.74 13.87,317.24 16.18,316.70 18.49,316.10 20.80,315.46 23.11,314.75 25.42,313.97 27.73,313.12 30.04,312.17 32.36,311.10 34.67,309.87 36.98,308.41 39.29,306.50 41.60,302.09 L41.6,297.37 Z" fill="url(#g_biog)"/>
<path d="M-41.60,311.91 -39.29,315.78 -36.98,317.13 -34.67,318.05 -32.36,318.74 -30.04,319.26 -27.73,319.66 -25.42,319.97 -23.11,320.20 -20.80,320.36 -18.49,320.47 -16.18,320.52 -13.87,320.51 -11.56,320.47 -9.24,320.37 -6.93,320.24 -4.62,320.07 -2.31,319.85 0.00,319.60 2.31,319.31 4.62,318.98 6.93,318.60 9.24,318.19 11.56,317.74 13.87,317.24 16.18,316.70 18.49,316.10 20.80,315.46 23.11,314.75 25.42,313.97 27.73,313.12 30.04,312.17 32.36,311.10 34.67,309.87 36.98,308.41 39.29,306.50 41.60,302.09" fill="none" stroke="rgba(45,35,5,0.62)" stroke-width="0.95"/>
<path d="M-41.60,307.19 -39.29,311.05 -36.98,312.41 -34.67,313.33 -32.36,314.01 -30.04,314.54 -27.73,314.94 -25.42,315.25 -23.11,315.48 -20.80,315.64 -18.49,315.75 -16.18,315.79 -13.87,315.79 -11.56,315.74 -9.24,315.65 -6.93,315.52 -4.62,315.34 -2.31,315.13 0.00,314.88 2.31,314.59 4.62,314.25 6.93,313.88 9.24,313.47 11.56,313.02 13.87,312.52 16.18,311.98 18.49,311.38 20.80,310.73 23.11,310.03 25.42,309.25 27.73,308.40 30.04,307.45 32.36,306.38 34.67,305.15 36.98,303.69 39.29,301.78 41.60,297.37 41.60,297.37 39.29,293.50 36.98,292.14 34.67,291.22 32.36,290.54 30.04,290.02 27.73,289.61 25.42,289.30 23.11,289.07 20.80,288.91 18.49,288.81 16.18,288.76 13.87,288.76 11.56,288.81 9.24,288.90 6.93,289.04 4.62,289.21 2.31,289.42 0.00,289.68 -2.31,289.97 -4.62,290.30 -6.93,290.67 -9.24,291.08 -11.56,291.54 -13.87,292.03 -16.18,292.58 -18.49,293.17 -20.80,293.82 -23.11,294.53 -25.42,295.30 -27.73,296.16 -30.04,297.11 -32.36,298.18 -34.67,299.40 -36.98,300.87 -39.29,302.77 -41.60,307.19 Z" fill="url(#g_lid)" stroke="#47661f" stroke-width="0.9"/>
</g>
<g transform="translate(827.6,0)" clip-path="url(#cclip)">
<path d="M-41.6,314.86 L-41.60,531.77 -39.29,535.46 -36.98,536.77 -34.67,537.68 -32.36,538.35 -30.04,538.88 -27.73,539.29 -25.42,539.62 -23.11,539.87 -20.80,540.06 -18.49,540.19 -16.18,540.27 -13.87,540.30 -11.56,540.29 -9.24,540.23 -6.93,540.14 -4.62,540.01 -2.31,539.84 0.00,539.63 2.31,539.39 4.62,539.11 6.93,538.80 9.24,538.44 11.56,538.05 13.87,537.61 16.18,537.13 18.49,536.60 20.80,536.02 23.11,535.39 25.42,534.69 27.73,533.91 30.04,533.05 32.36,532.08 34.67,530.95 36.98,529.60 39.29,527.83 41.60,523.70 L41.6,306.54 Z" fill="url(#g_ses)"/>
<path d="M-41.60,531.77 -39.29,535.46 -36.98,536.77 -34.67,537.68 -32.36,538.35 -30.04,538.88 -27.73,539.29 -25.42,539.62 -23.11,539.87 -20.80,540.06 -18.49,540.19 -16.18,540.27 -13.87,540.30 -11.56,540.29 -9.24,540.23 -6.93,540.14 -4.62,540.01 -2.31,539.84 0.00,539.63 2.31,539.39 4.62,539.11 6.93,538.80 9.24,538.44 11.56,538.05 13.87,537.61 16.18,537.13 18.49,536.60 20.80,536.02 23.11,535.39 25.42,534.69 27.73,533.91 30.04,533.05 32.36,532.08 34.67,530.95 36.98,529.60 39.29,527.83 41.60,523.70" fill="none" stroke="rgba(45,35,5,0.62)" stroke-width="0.95"/>
<path d="M-41.6,295.77 L-41.60,315.36 -39.29,318.09 -36.98,319.02 -34.67,319.64 -32.36,320.09 -30.04,320.43 -27.73,320.68 -25.42,320.87 -23.11,321.00 -20.80,321.08 -18.49,321.11 -16.18,321.11 -13.87,321.07 -11.56,321.00 -9.24,320.90 -6.93,320.77 -4.62,320.61 -2.31,320.42 0.00,320.20 2.31,319.96 4.62,319.68 6.93,319.38 9.24,319.05 11.56,318.69 13.87,318.30 16.18,317.87 18.49,317.41 20.80,316.92 23.11,316.37 25.42,315.78 27.73,315.14 30.04,314.42 32.36,313.62 34.67,312.71 36.98,311.63 39.29,310.23 41.60,307.04 L41.6,287.45 Z" fill="url(#g_dom)"/>
<path d="M-41.60,315.36 -39.29,318.09 -36.98,319.02 -34.67,319.64 -32.36,320.09 -30.04,320.43 -27.73,320.68 -25.42,320.87 -23.11,321.00 -20.80,321.08 -18.49,321.11 -16.18,321.11 -13.87,321.07 -11.56,321.00 -9.24,320.90 -6.93,320.77 -4.62,320.61 -2.31,320.42 0.00,320.20 2.31,319.96 4.62,319.68 6.93,319.38 9.24,319.05 11.56,318.69 13.87,318.30 16.18,317.87 18.49,317.41 20.80,316.92 23.11,316.37 25.42,315.78 27.73,315.14 30.04,314.42 32.36,313.62 34.67,312.71 36.98,311.63 39.29,310.23 41.60,307.04" fill="none" stroke="rgba(45,35,5,0.62)" stroke-width="0.95"/>
<path d="M-41.6,211.66 L-41.60,296.27 -39.29,298.99 -36.98,299.93 -34.67,300.55 -32.36,301.00 -30.04,301.34 -27.73,301.59 -25.42,301.77 -23.11,301.90 -20.80,301.98 -18.49,302.02 -16.18,302.02 -13.87,301.98 -11.56,301.91 -9.24,301.81 -6.93,301.67 -4.62,301.51 -2.31,301.32 0.00,301.11 2.31,300.86 4.62,300.59 6.93,300.29 9.24,299.96 11.56,299.60 13.87,299.21 16.18,298.78 18.49,298.32 20.80,297.82 23.11,297.28 25.42,296.69 27.73,296.04 30.04,295.33 32.36,294.53 34.67,293.62 36.98,292.53 39.29,291.14 41.60,287.95 L41.6,203.34 Z" fill="url(#g_ves)"/>
<path d="M-41.60,296.27 -39.29,298.99 -36.98,299.93 -34.67,300.55 -32.36,301.00 -30.04,301.34 -27.73,301.59 -25.42,301.77 -23.11,301.90 -20.80,301.98 -18.49,302.02 -16.18,302.02 -13.87,301.98 -11.56,301.91 -9.24,301.81 -6.93,301.67 -4.62,301.51 -2.31,301.32 0.00,301.11 2.31,300.86 4.62,300.59 6.93,300.29 9.24,299.96 11.56,299.60 13.87,299.21 16.18,298.78 18.49,298.32 20.80,297.82 23.11,297.28 25.42,296.69 27.73,296.04 30.04,295.33 32.36,294.53 34.67,293.62 36.98,292.53 39.29,291.14 41.60,287.95" fill="none" stroke="rgba(45,35,5,0.62)" stroke-width="0.95"/>
<path d="M-41.6,196.04 L-41.60,212.16 -39.29,214.89 -36.98,215.82 -34.67,216.44 -32.36,216.89 -30.04,217.23 -27.73,217.48 -25.42,217.67 -23.11,217.79 -20.80,217.87 -18.49,217.91 -16.18,217.91 -13.87,217.87 -11.56,217.80 -9.24,217.70 -6.93,217.57 -4.62,217.41 -2.31,217.22 0.00,217.00 2.31,216.75 4.62,216.48 6.93,216.18 9.24,215.85 11.56,215.49 13.87,215.10 16.18,214.67 18.49,214.21 20.80,213.71 23.11,213.17 25.42,212.58 27.73,211.93 30.04,211.22 32.36,210.42 34.67,209.51 36.98,208.43 39.29,207.03 41.60,203.84 L41.6,187.72 Z" fill="url(#g_mges)"/>
<path d="M-41.60,212.16 -39.29,214.89 -36.98,215.82 -34.67,216.44 -32.36,216.89 -30.04,217.23 -27.73,217.48 -25.42,217.67 -23.11,217.79 -20.80,217.87 -18.49,217.91 -16.18,217.91 -13.87,217.87 -11.56,217.80 -9.24,217.70 -6.93,217.57 -4.62,217.41 -2.31,217.22 0.00,217.00 2.31,216.75 4.62,216.48 6.93,216.18 9.24,215.85 11.56,215.49 13.87,215.10 16.18,214.67 18.49,214.21 20.80,213.71 23.11,213.17 25.42,212.58 27.73,211.93 30.04,211.22 32.36,210.42 34.67,209.51 36.98,208.43 39.29,207.03 41.60,203.84" fill="none" stroke="rgba(45,35,5,0.62)" stroke-width="0.95"/>
<path d="M-41.6,184.78 L-41.60,196.54 -39.29,199.26 -36.98,200.20 -34.67,200.82 -32.36,201.27 -30.04,201.61 -27.73,201.86 -25.42,202.04 -23.11,202.17 -20.80,202.25 -18.49,202.29 -16.18,202.29 -13.87,202.25 -11.56,202.18 -9.24,202.08 -6.93,201.94 -4.62,201.78 -2.31,201.59 0.00,201.38 2.31,201.13 4.62,200.86 6.93,200.56 9.24,200.23 11.56,199.87 13.87,199.48 16.18,199.05 18.49,198.59 20.80,198.09 23.11,197.55 25.42,196.96 27.73,196.31 30.04,195.60 32.36,194.80 34.67,193.89 36.98,192.80 39.29,191.41 41.60,188.22 L41.6,174.96 Z" fill="url(#g_biom)"/>
<path d="M-41.60,196.54 -39.29,199.26 -36.98,200.20 -34.67,200.82 -32.36,201.27 -30.04,201.61 -27.73,201.86 -25.42,202.04 -23.11,202.17 -20.80,202.25 -18.49,202.29 -16.18,202.29 -13.87,202.25 -11.56,202.18 -9.24,202.08 -6.93,201.94 -4.62,201.78 -2.31,201.59 0.00,201.38 2.31,201.13 4.62,200.86 6.93,200.56 9.24,200.23 11.56,199.87 13.87,199.48 16.18,199.05 18.49,198.59 20.80,198.09 23.11,197.55 25.42,196.96 27.73,196.31 30.04,195.60 32.36,194.80 34.67,193.89 36.98,192.80 39.29,191.41 41.60,188.22" fill="none" stroke="rgba(45,35,5,0.62)" stroke-width="0.95"/>
<path d="M-41.6,178.89 L-41.60,185.28 -39.29,189.15 -36.98,190.51 -34.67,191.43 -32.36,192.11 -30.04,192.63 -27.73,193.04 -25.42,193.35 -23.11,193.58 -20.80,193.74 -18.49,193.84 -16.18,193.89 -13.87,193.89 -11.56,193.84 -9.24,193.75 -6.93,193.62 -4.62,193.44 -2.31,193.23 0.00,192.97 2.31,192.68 4.62,192.35 6.93,191.98 9.24,191.57 11.56,191.11 13.87,190.62 16.18,190.07 18.49,189.48 20.80,188.83 23.11,188.12 25.42,187.35 27.73,186.49 30.04,185.54 32.36,184.48 34.67,183.25 36.98,181.78 39.29,179.88 41.60,175.46 L41.6,169.08 Z" fill="url(#g_biog)"/>
<path d="M-41.60,185.28 -39.29,189.15 -36.98,190.51 -34.67,191.43 -32.36,192.11 -30.04,192.63 -27.73,193.04 -25.42,193.35 -23.11,193.58 -20.80,193.74 -18.49,193.84 -16.18,193.89 -13.87,193.89 -11.56,193.84 -9.24,193.75 -6.93,193.62 -4.62,193.44 -2.31,193.23 0.00,192.97 2.31,192.68 4.62,192.35 6.93,191.98 9.24,191.57 11.56,191.11 13.87,190.62 16.18,190.07 18.49,189.48 20.80,188.83 23.11,188.12 25.42,187.35 27.73,186.49 30.04,185.54 32.36,184.48 34.67,183.25 36.98,181.78 39.29,179.88 41.60,175.46" fill="none" stroke="rgba(45,35,5,0.62)" stroke-width="0.95"/>
<path d="M-41.60,178.89 -39.29,182.76 -36.98,184.12 -34.67,185.04 -32.36,185.72 -30.04,186.25 -27.73,186.65 -25.42,186.96 -23.11,187.19 -20.80,187.35 -18.49,187.45 -16.18,187.50 -13.87,187.50 -11.56,187.45 -9.24,187.36 -6.93,187.23 -4.62,187.05 -2.31,186.84 0.00,186.59 2.31,186.29 4.62,185.96 6.93,185.59 9.24,185.18 11.56,184.73 13.87,184.23 16.18,183.69 18.49,183.09 20.80,182.44 23.11,181.74 25.42,180.96 27.73,180.10 30.04,179.16 32.36,178.09 34.67,176.86 36.98,175.39 39.29,173.49 41.60,169.08 41.60,169.08 39.29,165.21 36.98,163.85 34.67,162.93 32.36,162.25 30.04,161.73 27.73,161.32 25.42,161.01 23.11,160.78 20.80,160.62 18.49,160.52 16.18,160.47 13.87,160.47 11.56,160.52 9.24,160.61 6.93,160.74 4.62,160.92 2.31,161.13 0.00,161.39 -2.31,161.68 -4.62,162.01 -6.93,162.38 -9.24,162.79 -11.56,163.25 -13.87,163.74 -16.18,164.29 -18.49,164.88 -20.80,165.53 -23.11,166.24 -25.42,167.01 -27.73,167.87 -30.04,168.82 -32.36,169.88 -34.67,171.11 -36.98,172.58 -39.29,174.48 -41.60,178.89 Z" fill="url(#g_lid)" stroke="#47661f" stroke-width="0.9"/>
</g>
<text x="120.3" y="574.1" font-family="Liberation Sans" font-size="18.2" font-weight="bold" fill="#000" text-anchor="middle" textLength="42" lengthAdjust="spacingAndGlyphs" >2014</text>
<text x="293.7" y="574.1" font-family="Liberation Sans" font-size="18.2" font-weight="bold" fill="#000" text-anchor="middle" textLength="42" lengthAdjust="spacingAndGlyphs" >2015</text>
<text x="467" y="574.1" font-family="Liberation Sans" font-size="18.2" font-weight="bold" fill="#000" text-anchor="middle" textLength="42" lengthAdjust="spacingAndGlyphs" >2016</text>
<text x="640.5" y="574.1" font-family="Liberation Sans" font-size="18.2" font-weight="bold" fill="#000" text-anchor="middle" textLength="42" lengthAdjust="spacingAndGlyphs" >2017</text>
<text x="814" y="574.1" font-family="Liberation Sans" font-size="18.2" font-weight="bold" fill="#000" text-anchor="middle" textLength="42" lengthAdjust="spacingAndGlyphs" >2018</text>
<text x="121.5" y="373.8" font-family="Liberation Sans" font-size="18" font-weight="bold" fill="#000" text-anchor="middle" textLength="20.2" lengthAdjust="spacingAndGlyphs" >15</text>
<text x="120.2" y="395.3" font-family="Liberation Sans" font-size="18" font-weight="bold" fill="#000" text-anchor="middle" textLength="20.2" lengthAdjust="spacingAndGlyphs" >35</text>
<text x="121.5" y="416.6" font-family="Liberation Sans" font-size="18" font-weight="bold" fill="#000" text-anchor="middle" textLength="20.2" lengthAdjust="spacingAndGlyphs" >80</text>
<text x="120.9" y="448.7" font-family="Liberation Sans" font-size="18" font-weight="bold" fill="#000" text-anchor="middle" textLength="30.299999999999997" lengthAdjust="spacingAndGlyphs" >426</text>
<text x="120.2" y="481.7" font-family="Liberation Sans" font-size="18" font-weight="bold" fill="#000" text-anchor="middle" textLength="25.5" lengthAdjust="spacingAndGlyphs" >0,1</text>
<text x="120.9" y="515.3" font-family="Liberation Sans" font-size="18" font-weight="bold" fill="#000" text-anchor="middle" textLength="30.299999999999997" lengthAdjust="spacingAndGlyphs" >411</text>
<text x="296.4" y="371.3" font-family="Liberation Sans" font-size="18" font-weight="bold" fill="#000" text-anchor="middle" textLength="20.2" lengthAdjust="spacingAndGlyphs" >17</text>
<text x="296.4" y="394.7" font-family="Liberation Sans" font-size="18" font-weight="bold" fill="#000" text-anchor="middle" textLength="20.2" lengthAdjust="spacingAndGlyphs" >35</text>
<text x="296.4" y="411.7" font-family="Liberation Sans" font-size="18" font-weight="bold" fill="#000" text-anchor="middle" textLength="20.2" lengthAdjust="spacingAndGlyphs" >87</text>
<text x="293.5" y="444.6" font-family="Liberation Sans" font-size="18" font-weight="bold" fill="#000" text-anchor="middle" textLength="30.299999999999997" lengthAdjust="spacingAndGlyphs" >426</text>
<text x="294" y="479.6" font-family="Liberation Sans" font-size="18" font-weight="bold" fill="#000" text-anchor="middle" textLength="10.1" lengthAdjust="spacingAndGlyphs" >2</text>
<text x="293.5" y="512.8" font-family="Liberation Sans" font-size="18" font-weight="bold" fill="#000" text-anchor="middle" textLength="30.299999999999997" lengthAdjust="spacingAndGlyphs" >432</text>
<text x="469" y="344.6" font-family="Liberation Sans" font-size="18" font-weight="bold" fill="#000" text-anchor="middle" textLength="20.2" lengthAdjust="spacingAndGlyphs" >20</text>
<text x="469" y="367.1" font-family="Liberation Sans" font-size="18" font-weight="bold" fill="#000" text-anchor="middle" textLength="20.2" lengthAdjust="spacingAndGlyphs" >39</text>
<text x="469" y="385.05" font-family="Liberation Sans" font-size="18" font-weight="bold" fill="#000" text-anchor="middle" textLength="20.2" lengthAdjust="spacingAndGlyphs" >90</text>
<text x="467" y="425.3" font-family="Liberation Sans" font-size="18" font-weight="bold" fill="#000" text-anchor="middle" textLength="30.299999999999997" lengthAdjust="spacingAndGlyphs" >438</text>
<text x="467" y="460.90000000000003" font-family="Liberation Sans" font-size="18" font-weight="bold" fill="#000" text-anchor="middle" textLength="20.2" lengthAdjust="spacingAndGlyphs" >17</text>
<text x="467" y="504.6" font-family="Liberation Sans" font-size="18" font-weight="bold" fill="#000" text-anchor="middle" textLength="30.299999999999997" lengthAdjust="spacingAndGlyphs" >531</text>
<text x="646" y="303.0" font-family="Liberation Sans" font-size="18" font-weight="bold" fill="#000" text-anchor="middle" textLength="20.2" lengthAdjust="spacingAndGlyphs" >34</text>
<text x="646" y="324.6" font-family="Liberation Sans" font-size="18" font-weight="bold" fill="#000" text-anchor="middle" textLength="20.2" lengthAdjust="spacingAndGlyphs" >39</text>
<text x="646" y="340.5" font-family="Liberation Sans" font-size="18" font-weight="bold" fill="#000" text-anchor="middle" textLength="20.2" lengthAdjust="spacingAndGlyphs" >95</text>
<text x="640.8" y="385.90000000000003" font-family="Liberation Sans" font-size="18" font-weight="bold" fill="#000" text-anchor="middle" textLength="30.299999999999997" lengthAdjust="spacingAndGlyphs" >465</text>
<text x="641" y="425.5" font-family="Liberation Sans" font-size="18" font-weight="bold" fill="#000" text-anchor="middle" textLength="20.2" lengthAdjust="spacingAndGlyphs" >51</text>
<text x="640.8" y="489.3" font-family="Liberation Sans" font-size="18" font-weight="bold" fill="#000" text-anchor="middle" textLength="30.299999999999997" lengthAdjust="spacingAndGlyphs" >742</text>
<text x="814" y="177.60000000000002" font-family="Liberation Sans" font-size="18" font-weight="bold" fill="#000" text-anchor="middle" textLength="20.2" lengthAdjust="spacingAndGlyphs" >46</text>
<text x="814" y="196.8" font-family="Liberation Sans" font-size="18" font-weight="bold" fill="#000" text-anchor="middle" textLength="20.2" lengthAdjust="spacingAndGlyphs" >51</text>
<text x="814" y="216.9" font-family="Liberation Sans" font-size="18" font-weight="bold" fill="#000" text-anchor="middle" textLength="20.2" lengthAdjust="spacingAndGlyphs" >99</text>
<text x="814" y="267.3" font-family="Liberation Sans" font-size="18" font-weight="bold" fill="#000" text-anchor="middle" textLength="30.299999999999997" lengthAdjust="spacingAndGlyphs" >533</text>
<text x="814" y="319.0" font-family="Liberation Sans" font-size="18" font-weight="bold" fill="#000" text-anchor="middle" textLength="30.299999999999997" lengthAdjust="spacingAndGlyphs" >121</text>
<text x="814" y="437.8" font-family="Liberation Sans" font-size="18" font-weight="bold" fill="#000" text-anchor="middle" textLength="40.4" lengthAdjust="spacingAndGlyphs" >1389</text>
<path d="M98.2,315.4 L176.5,315.4 L176.5,344.3 C153.0,344.0 137.3,351.6 117.0,351.0 C109.2,350.8 102.9,349.5 98.2,348.7 Z" fill="#ffffff" stroke="#6aa2b8" stroke-width="0.9"/><text x="136.2" y="339.8" font-family="Liberation Sans" font-size="18.2" font-weight="bold" fill="#14224f" text-anchor="middle" textLength="30.7" lengthAdjust="spacingAndGlyphs" >967</text>
<path d="M270.2,316.1 L347.5,316.1 L347.5,341.1 C324.3,340.8 308.9,348.0 288.8,347.4 C281.0,347.2 274.8,346.3 270.2,345.5 Z" fill="#ffffff" stroke="#6aa2b8" stroke-width="0.9"/><text x="307.4" y="339.8" font-family="Liberation Sans" font-size="18.2" font-weight="bold" fill="#14224f" text-anchor="middle" textLength="31.2" lengthAdjust="spacingAndGlyphs" >999</text>
<path d="M442.3,288.3 L517.5,288.3 L517.5,315.4 C494.9,315.1 479.9,322.7 460.3,322.1 C452.8,321.9 446.8,320.6 442.3,319.8 Z" fill="#ffffff" stroke="#6aa2b8" stroke-width="0.9"/><text x="479.75" y="313.0" font-family="Liberation Sans" font-size="18.2" font-weight="bold" fill="#14224f" text-anchor="middle" textLength="46.3" lengthAdjust="spacingAndGlyphs" >1 135</text>
<path d="M618.3,246.3 L693.5,246.3 L693.5,273.5 C670.9,273.2 655.9,280.7 636.3,280.1 C628.8,279.9 622.8,278.7 618.3,277.9 Z" fill="#ffffff" stroke="#6aa2b8" stroke-width="0.9"/><text x="655.7" y="270.9" font-family="Liberation Sans" font-size="18.2" font-weight="bold" fill="#14224f" text-anchor="middle" textLength="46.9" lengthAdjust="spacingAndGlyphs" >1 426</text>
<path d="M787.3,126.3 L864.6,126.3 L864.6,152.9 C841.4,152.6 826.0,160.0 805.9,159.4 C798.1,159.2 791.9,158.1 787.3,157.3 Z" fill="#ffffff" stroke="#6aa2b8" stroke-width="0.9"/><text x="825.4" y="150.9" font-family="Liberation Sans" font-size="18.2" font-weight="bold" fill="#14224f" text-anchor="middle" textLength="47.6" lengthAdjust="spacingAndGlyphs" >2 239</text>
<path d="M184.4,373.5 L252.6,362.6 M245.1,367.6 L252.6,362.6 L243.9,360.1" fill="none" stroke="#3a78b8" stroke-width="1.15"/><g transform="translate(218.6,350) rotate(-8.5)"><text x="0" y="6.1" font-family="Liberation Sans" font-size="17.4" font-weight="bold" fill="#10a555" text-anchor="middle" >+32 МВт</text></g>
<path d="M358.8,371.7 L436.7,347.5 M430.0,353.6 L436.7,347.5 L427.8,346.3" fill="none" stroke="#3a78b8" stroke-width="1.15"/><g transform="translate(397.6,336) rotate(-15.8)"><text x="0" y="6.1" font-family="Liberation Sans" font-size="17.4" font-weight="bold" fill="#10a555" text-anchor="middle" >+136 МВт</text></g>
<path d="M531.2,340.5 L605.6,310.5 M599.5,317.1 L605.6,310.5 L596.6,310.0" fill="none" stroke="#3a78b8" stroke-width="1.15"/><g transform="translate(568.6,305.3) rotate(-20.6)"><text x="0" y="6.1" font-family="Liberation Sans" font-size="17.4" font-weight="bold" fill="#10a555" text-anchor="middle" >+291 МВт</text></g>
<path d="M703.0,275.4 L776.7,232.0 M771.6,239.4 L776.7,232.0 L767.7,232.9" fill="none" stroke="#3a78b8" stroke-width="1.15"/><g transform="translate(732,228.5) rotate(-32.5)"><text x="0" y="6.1" font-family="Liberation Sans" font-size="17.4" font-weight="bold" fill="#10a555" text-anchor="middle" >+813 МВт</text></g>
<rect x="73.05" y="601.3" width="10.9" height="10.9" fill="#ffc000" stroke="#7f6000" stroke-width="1.1"/>
<text x="90.5" y="613" font-family="Liberation Sans" font-size="18" font-weight="normal" fill="#000" text-anchor="start" textLength="30.75" lengthAdjust="spacingAndGlyphs" >СЕС</text>
<rect x="178.75" y="601.3" width="10.9" height="10.9" fill="#f4914d" stroke="#7a4826" stroke-width="1.1"/>
<text x="195.9" y="613" font-family="Liberation Sans" font-size="18" font-weight="normal" fill="#000" text-anchor="start" textLength="30.6" lengthAdjust="spacingAndGlyphs" >СЕС</text>
<text x="232.2" y="613" font-family="Liberation Sans" font-size="18" font-weight="normal" fill="#000" text-anchor="start" textLength="164.8" lengthAdjust="spacingAndGlyphs" >домогосподарств*</text>
<rect x="458.55" y="601.3" width="10.9" height="10.9" fill="#a5a5a5" stroke="#525252" stroke-width="1.1"/>
<text x="476.25" y="613" font-family="Liberation Sans" font-size="18" font-weight="normal" fill="#000" text-anchor="start" textLength="30.75" lengthAdjust="spacingAndGlyphs" >ВЕС</text>
<rect x="564.05" y="601.3" width="10.9" height="10.9" fill="#1caef0" stroke="#0e5778" stroke-width="1.1"/>
<text x="582.5" y="613" font-family="Liberation Sans" font-size="18" font-weight="normal" fill="#000" text-anchor="start" textLength="45.5" lengthAdjust="spacingAndGlyphs" >МГЕС</text>
<rect x="686.05" y="601.3" width="10.9" height="10.9" fill="#4f6228" stroke="#27311a" stroke-width="1.1"/>
<text x="703" y="613" font-family="Liberation Sans" font-size="18" font-weight="normal" fill="#000" text-anchor="start" textLength="67.75" lengthAdjust="spacingAndGlyphs" >Біомаса</text>
<rect x="830.3499999999999" y="601.3" width="10.9" height="10.9" fill="#92d050" stroke="#49682a" stroke-width="1.1"/>
<text x="847.5" y="613" font-family="Liberation Sans" font-size="18" font-weight="normal" fill="#000" text-anchor="start" textLength="50.5" lengthAdjust="spacingAndGlyphs" >Біогаз</text>
<line x1="42.7" y1="627.8" x2="937" y2="631.2" stroke="#8fa9cf" stroke-width="2.6" opacity="0.5" filter="url(#blur1)"/>
<line x1="42.7" y1="625.6" x2="937" y2="629.0" stroke="#4a7cb8" stroke-width="3.2"/>
<text x="26" y="661.6" font-family="Liberation Sans" font-size="24" font-weight="normal" fill="#2f6eaa" text-anchor="start" textLength="293" lengthAdjust="spacingAndGlyphs" >З початку 2015 р. введено</text>
<text x="327" y="661.6" font-family="Liberation Sans" font-size="24" font-weight="bold" fill="#2f6eaa" text-anchor="start" textLength="107" lengthAdjust="spacingAndGlyphs" >1271 МВт</text>
<text x="440.5" y="661.6" font-family="Liberation Sans" font-size="24" font-weight="normal" fill="#2f6eaa" text-anchor="start" textLength="125.8" lengthAdjust="spacingAndGlyphs" >та залучено</text>
<text x="587.5" y="661.6" font-family="Liberation Sans" font-size="24" font-weight="normal" fill="#2f6eaa" text-anchor="start" textLength="89.6" lengthAdjust="spacingAndGlyphs" >близько</text>
<text x="690" y="661.6" font-family="Liberation Sans" font-size="24" font-weight="bold" fill="#2f6eaa" text-anchor="start" textLength="120" lengthAdjust="spacingAndGlyphs" >1,2 млрд €</text>
<text x="815.8" y="661.6" font-family="Liberation Sans" font-size="24" font-weight="normal" fill="#2f6eaa" text-anchor="start" textLength="116.5" lengthAdjust="spacingAndGlyphs" >інвестицій</text>
<line x1="194" y1="685.5" x2="419" y2="685.5" stroke="#5f8bc3" stroke-width="0.9"/>
<text x="205" y="705.6" font-family="Liberation Sans" font-size="17.2" font-weight="normal" fill="#000" text-anchor="start" textLength="397.5" lengthAdjust="spacingAndGlyphs" >* дані СЕС домогосподарств станом на 01.10.2018</text>
<rect x="87.5" y="685.8" width="69.2" height="25.5" fill="#ffe81a"/>
<text x="7.6" y="705.2" font-family="Liberation Sans" font-size="19.0" font-weight="bold" fill="#0a0a0a" text-anchor="start" textLength="79.4" lengthAdjust="spacingAndGlyphs" stroke="#0a0a0a" stroke-width="0.7" stroke-linejoin="round">Ukraine</text>
<text x="95.1" y="705.2" font-family="Liberation Sans" font-size="19.0" font-weight="bold" fill="#0a0a0a" text-anchor="start" textLength="53.6" lengthAdjust="spacingAndGlyphs" stroke="#0a0a0a" stroke-width="0.7" stroke-linejoin="round">NOW</text>
<circle cx="160" cy="685.8" r="12.3" fill="#1f6fe5"/>
<text x="160" y="689.3" font-family="Liberation Sans" font-size="12" font-weight="bold" fill="#fff" text-anchor="middle" textLength="14.2" lengthAdjust="spacingAndGlyphs" stroke="#fff" stroke-width="0.4">ua</text>
</svg>
<div class="t title" style="top:56px;font-size:24px;letter-spacing:0.045px;left:-1.3px;">Встановлена потужність об'єктів відновлюваної</div>
<div class="t title" style="top:85px;font-size:24px;letter-spacing:0.04px;left:-1.2px;">електроенергетики, що працюють за «зеленим» тарифом, МВт</div>
<div class="t title" style="top:112px;font-size:18.85px;">(з урахуванням СЕС домогосподарств)</div>
<div class="t title" style="top:133.5px;font-size:19.3px;font-weight:normal;">(станом на 01.01.2019)</div>
</body></html>
